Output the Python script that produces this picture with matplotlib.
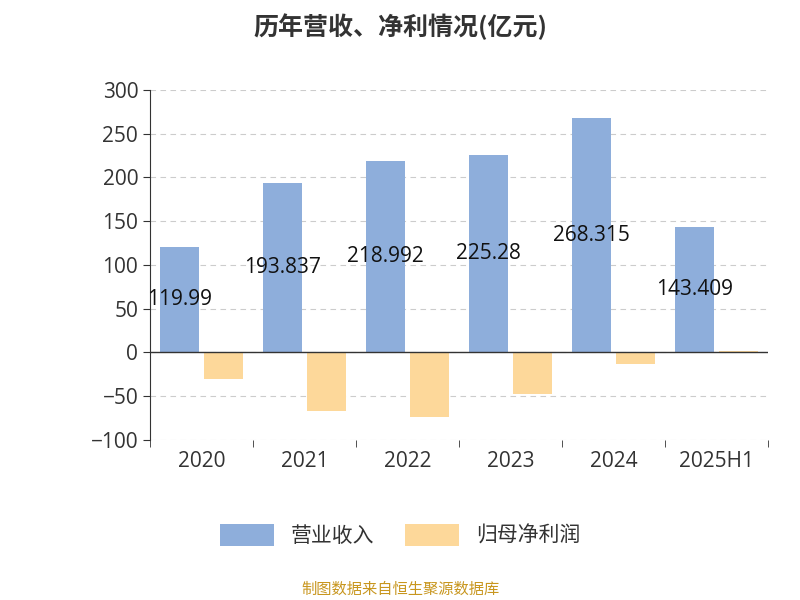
import matplotlib
matplotlib.use("Agg")
import matplotlib.pyplot as plt
import numpy as np

plt.rcParams['font.family'] = ['Open Sans', 'Noto Sans CJK SC', 'DejaVu Sans']

categories = ['2020', '2021', '2022', '2023', '2024', '2025H1']
revenue = [119.99, 193.837, 218.992, 225.28, 268.315, 143.409]
revenue_labels = ['119.99', '193.837', '218.992', '225.28', '268.315', '143.409']
net_profit = [-30, -67.5, -74, -48, -13.5, 1]

fig = plt.figure(figsize=(8, 6), dpi=100)
ax = fig.add_axes([0.1875, 0.267, 0.7725, 0.583])
x = np.arange(len(categories))
w = 0.38
off = 0.21
ax.bar(x - off, revenue, w, color='#8eaedb', label='营业收入', zorder=3)
ax.bar(x + off, net_profit, w, color='#fdd89a', label='归母净利润', zorder=3)
for xi, v, t in zip(x, revenue, revenue_labels):
    ax.text(xi - off, v / 2, t, ha='center', va='center', fontsize=15, color='#111111', zorder=4)

ax.set_xlim(-0.5, len(categories) - 0.5)
ax.set_ylim(-100, 300)
ax.set_yticks(range(-100, 301, 50))
ax.set_xticks(x)
ax.set_xticklabels(categories)
ax.tick_params(axis='both', labelsize=15, colors='#333333', length=5)
ax.tick_params(axis='x', pad=8)
ax.grid(axis='y', linestyle=(0, (5, 4)), color='#cccccc', zorder=0)
for s in ['top', 'right', 'bottom']:
    ax.spines[s].set_visible(False)
ax.spines['left'].set_color('#333333')
ax.axhline(0, color='#333333', lw=1, zorder=4)
ax.set_xticks(np.arange(-0.5, len(categories), 1), minor=True)
ax.tick_params(axis='x', which='major', length=0)
ax.tick_params(axis='x', which='minor', length=5, color='#333333')

fig.text(0.5, 0.955, '历年营收、净利情况(亿元)', ha='center', va='center', fontsize=18, fontweight='bold', color='#333333',
         family=['Noto Sans CJK SC', 'DejaVu Sans'])
leg = fig.legend(loc='center', bbox_to_anchor=(0.5, 0.108), ncol=2, frameon=False, fontsize=15,
           handlelength=2.6, handleheight=1.3, columnspacing=1.5, labelcolor='#333333',
           prop={'family': ['Noto Sans CJK SC'], 'size': 15})
fig.text(0.5, 0.018, '制图数据来自恒生聚源数据库', ha='center', va='center', fontsize=11, color='#c8961e',
         family=['Noto Sans CJK SC'])
fig.savefig('out.png', dpi=100)
